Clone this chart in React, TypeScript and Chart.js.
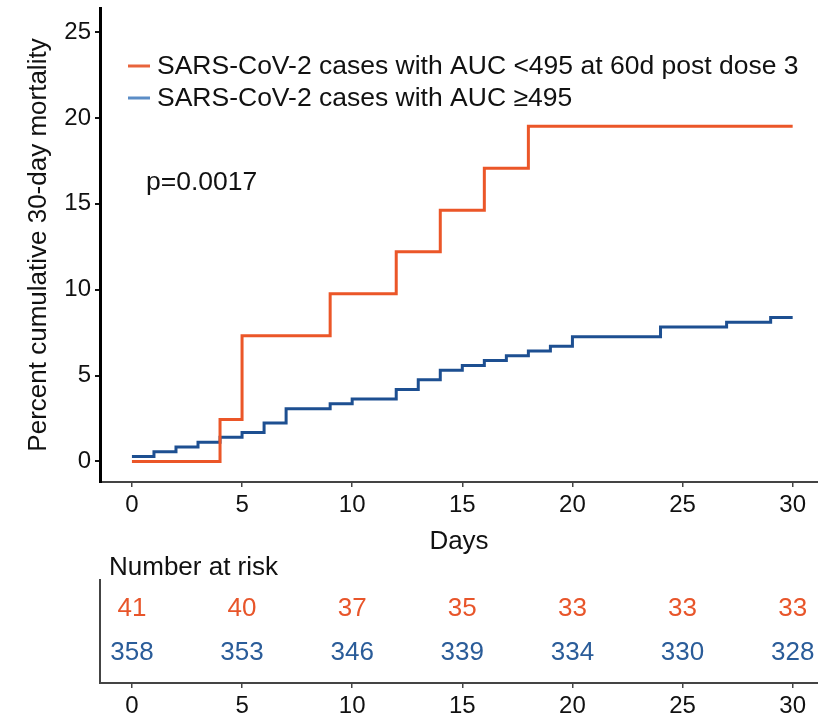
import React, { useEffect, useRef } from "react";
import { Chart, registerables } from "chart.js";

Chart.register(...registerables);

const FONT = "'Liberation Sans', Arial, Helvetica, sans-serif";
const ORANGE = "#EB5628";
const BLUE = "#1D4F91";
const ORANGE_KEY = "#E8643C";
const BLUE_KEY = "#5B8DC6";
const ORANGE_TXT = "#E8552A";
const BLUE_TXT = "#2A5C99";

// Kaplan-Meier style cumulative mortality (percent)
const lowLabel = "SARS-CoV-2 cases with AUC <495 at 60d post dose 3";
const lowDays = [0, 4, 5, 9, 12, 14, 16, 18, 30];
const lowPct = [0, 2.44, 7.32, 9.76, 12.2, 14.63, 17.07, 19.51, 19.51];

const highLabel = "SARS-CoV-2 cases with AUC \u2265495";
const highDays = [0, 1, 2, 3, 4, 5, 6, 7, 9, 10, 12, 13, 14, 15, 16, 17, 18, 19, 20, 24, 27, 29, 30];
const highPct = [0.28, 0.56, 0.84, 1.12, 1.4, 1.68, 2.23, 3.07, 3.35, 3.63, 4.19, 4.75, 5.3, 5.59, 5.87, 6.15, 6.43, 6.71, 7.26, 7.82, 8.1, 8.38, 8.38];

const pText = "p=0.0017";

// Number at risk table
const riskDays = [0, 5, 10, 15, 20, 25, 30];
const riskLow = [41, 40, 37, 35, 33, 33, 33];
const riskHigh = [358, 353, 346, 339, 334, 330, 328];

const xTicks = [0, 5, 10, 15, 20, 25, 30];
const yTicks = [0, 5, 10, 15, 20, 25];

const X_MIN = -1.45;
const X_MAX = 31.15;

const annotationPlugin = {
  id: "kmAnnotations",
  afterDraw(chart: any) {
    const { ctx, chartArea } = chart;
    ctx.save();
    const left = chartArea.left;
    const keys = [
      { label: lowLabel, color: ORANGE_KEY, y: 66 },
      { label: highLabel, color: BLUE_KEY, y: 98 },
    ];
    ctx.font = `26.5px ${FONT}`;
    ctx.textBaseline = "middle";
    ctx.textAlign = "left";
    for (const k of keys) {
      ctx.strokeStyle = k.color;
      ctx.lineWidth = 3;
      ctx.beginPath();
      ctx.moveTo(left + 28, k.y);
      ctx.lineTo(left + 50, k.y);
      ctx.stroke();
      ctx.fillStyle = "#111";
      ctx.fillText(k.label, left + 57, k.y + 1);
    }
    ctx.fillStyle = "#111";
    ctx.fillText(pText, left + 46, 183);
    ctx.restore();
  },
};

const riskPlugin = {
  id: "riskTable",
  afterDatasetsDraw(chart: any) {
    const { ctx, chartArea } = chart;
    ctx.save();
    ctx.font = `26px ${FONT}`;
    ctx.textBaseline = "alphabetic";
    ctx.textAlign = "left";
    ctx.fillStyle = "#111";
    ctx.fillText("Number at risk", chartArea.left + 9, chartArea.top - 5);
    const rows = [
      { values: riskLow, color: ORANGE_TXT, idx: 0 },
      { values: riskHigh, color: BLUE_TXT, idx: 1 },
    ];
    ctx.textAlign = "center";
    for (const r of rows) {
      const meta = chart.getDatasetMeta(r.idx);
      ctx.fillStyle = r.color;
      meta.data.forEach((pt: any, i: number) => {
        ctx.fillText(String(r.values[i]), pt.x, pt.y + 9.3);
      });
    }
    ctx.restore();
  },
};

function xScaleOptions(height: number) {
  return {
    type: "linear" as const,
    min: X_MIN,
    max: X_MAX,
    afterBuildTicks: (s: any) => {
      s.ticks = xTicks.map((v) => ({ value: v }));
    },
    afterFit: (s: any) => {
      s.height = height;
      s.paddingLeft = 0;
      s.paddingRight = 0;
    },
    grid: {
      display: true,
      drawOnChartArea: false,
      drawTicks: true,
      tickLength: 5,
      color: "#444",
      lineWidth: 1.5,
    },
    border: { display: true, color: "#444", width: 2 },
    ticks: {
      color: "#111",
      font: { size: 24, family: FONT },
      padding: 4,
      maxRotation: 0,
      autoSkip: false,
    },
  };
}

export default function App() {
  const mainRef = useRef<HTMLCanvasElement | null>(null);
  const riskRef = useRef<HTMLCanvasElement | null>(null);

  useEffect(() => {
    if (!mainRef.current || !riskRef.current) return;

    const main = new Chart(mainRef.current, {
      type: "line",
      data: {
        datasets: [
          {
            label: lowLabel,
            data: lowDays.map((d, i) => ({ x: d, y: lowPct[i] })),
            borderColor: ORANGE,
            borderWidth: 3,
            stepped: true,
            pointRadius: 0,
            fill: false,
          },
          {
            label: highLabel,
            data: highDays.map((d, i) => ({ x: d, y: highPct[i] })),
            borderColor: BLUE,
            borderWidth: 3,
            stepped: true,
            pointRadius: 0,
            fill: false,
          },
        ],
      },
      options: {
        animation: false,
        responsive: false,
        maintainAspectRatio: false,
        layout: { padding: { top: 8, left: 0, right: 0, bottom: 0 } },
        plugins: { legend: { display: false }, tooltip: { enabled: false } },
        scales: {
          x: {
            ...xScaleOptions(78),
            title: {
              display: true,
              text: "Days",
              color: "#111",
              font: { size: 26, family: FONT },
              padding: { top: 0, bottom: 3 },
            },
          } as any,
          y: {
            type: "linear",
            min: -1.2,
            max: 26.4,
            afterBuildTicks: (s: any) => {
              s.ticks = yTicks.map((v) => ({ value: v }));
            },
            afterFit: (s: any) => {
              s.width = 100;
              s.paddingTop = 0;
              s.paddingBottom = 0;
            },
            grid: {
              display: true,
              drawOnChartArea: false,
              drawTicks: true,
              tickLength: 5,
              color: "#111",
              lineWidth: 2,
            },
            border: { display: true, color: "#000", width: 3 },
            ticks: {
              color: "#111",
              font: { size: 24, family: FONT },
              padding: 4,
            },
            title: {
              display: true,
              text: "Percent cumulative 30-day mortality",
              color: "#111",
              font: { size: 26, family: FONT },
              padding: { top: 23, bottom: 0 },
            },
          },
        },
      },
      plugins: [annotationPlugin],
    });

    const risk = new Chart(riskRef.current, {
      type: "scatter",
      data: {
        datasets: [
          {
            label: "low",
            data: riskDays.map((d) => ({ x: d, y: 2 })),
            pointRadius: 0,
            showLine: false,
          },
          {
            label: "high",
            data: riskDays.map((d) => ({ x: d, y: 1 })),
            pointRadius: 0,
            showLine: false,
          },
        ],
      },
      options: {
        animation: false,
        responsive: false,
        maintainAspectRatio: false,
        layout: { padding: { top: 32, left: 0, right: 0, bottom: 0 } },
        plugins: { legend: { display: false }, tooltip: { enabled: false } },
        scales: {
          x: xScaleOptions(31) as any,
          y: {
            type: "linear",
            min: 0.273,
            max: 2.614,
            afterBuildTicks: (s: any) => {
              s.ticks = [];
            },
            afterFit: (s: any) => {
              s.width = 100;
              s.paddingTop = 0;
              s.paddingBottom = 0;
            },
            grid: { display: false },
            border: { display: true, color: "#444", width: 2 },
            ticks: { display: false },
          },
        },
      },
      plugins: [riskPlugin],
    });

    return () => {
      main.destroy();
      risk.destroy();
    };
  }, []);

  return (
    <div
      style={{
        position: "absolute",
        left: 0,
        top: 0,
        width: 818,
        height: 714,
        overflow: "hidden",
        background: "#fff",
      }}
    >
      <canvas
        ref={mainRef}
        width={818}
        height={560}
        style={{ position: "absolute", left: 0, top: 0, display: "block" }}
      />
      <canvas
        ref={riskRef}
        width={818}
        height={166}
        style={{ position: "absolute", left: 0, top: 548, display: "block" }}
      />
    </div>
  );
}
